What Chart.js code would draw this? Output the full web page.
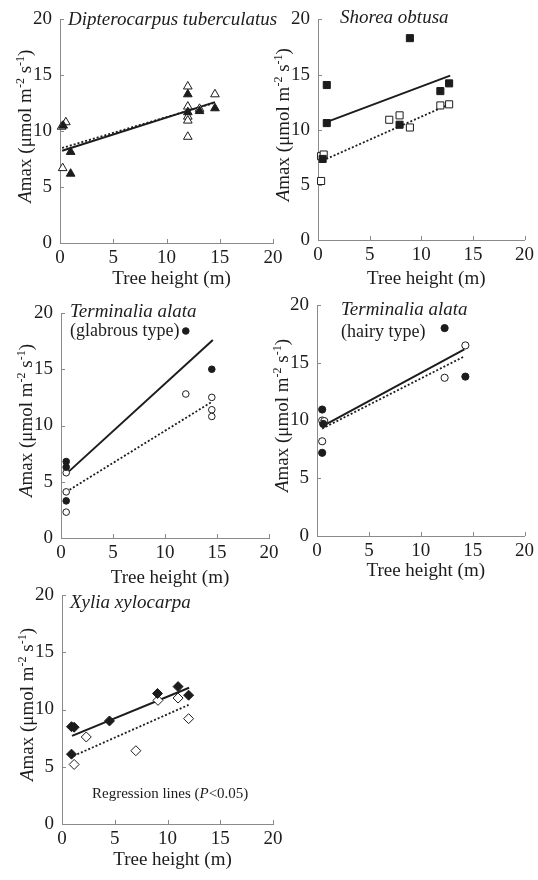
<!DOCTYPE html>
<html>
<head>
<meta charset="utf-8">
<script src="https://cdn.jsdelivr.net/npm/chart.js@4.4.0/dist/chart.umd.min.js"></script>
<style>
  body { margin: 0; background: #fff; }
  #wrap { position: relative; width: 538px; height: 880px; }
  #wrap canvas { position: absolute; left: 0; top: 0; }
</style>
</head>
<body>
<div id="wrap">
  <canvas id="p1" width="538" height="880"></canvas>
  <canvas id="p2" width="538" height="880"></canvas>
  <canvas id="p3" width="538" height="880"></canvas>
  <canvas id="p4" width="538" height="880"></canvas>
  <canvas id="p5" width="538" height="880"></canvas>
</div>
<script>
//axis ticks (tree height m, Amax)
const tickValues = [0, 5, 10, 15, 20];

//Dipterocarpus tuberculatus  [height, Amax]
const dipFilled = [[0.3, 10.5], [1.0, 8.15], [1.0, 6.2], [12.0, 13.3], [12.0, 11.7], [13.1, 11.8], [14.55, 12.05]];
const dipOpen = [[0.55, 10.8], [0.15, 10.4], [0.25, 6.7], [12.0, 14.0], [12.0, 12.2], [12.0, 11.3], [12.0, 10.95], [12.0, 9.5], [13.1, 12.0], [14.55, 13.3]];
const dipSolid = [[0.2, 8.25], [14.55, 12.6]];
const dipDotted = [[0.2, 8.5], [14.4, 12.5]];

//Shorea obtusa
const shoFilled = [[8.9, 18.3], [0.85, 14.05], [0.85, 10.6], [0.45, 7.35], [7.9, 10.45], [11.85, 13.5], [12.7, 14.2]];
const shoOpen = [[0.3, 7.6], [0.55, 7.75], [0.3, 5.35], [6.9, 10.9], [7.9, 11.3], [8.9, 10.2], [11.85, 12.2], [12.7, 12.3]];
const shoSolid = [[0.55, 10.6], [12.8, 14.9]];
const shoDotted = [[0.45, 7.2], [12.7, 12.3]];

//Terminalia alata (glabrous type)
const tgFilled = [[0.5, 6.8], [0.5, 6.3], [0.5, 3.3], [12.0, 18.4], [14.5, 15.0]];
const tgOpen = [[0.5, 5.8], [0.5, 4.1], [0.5, 2.3], [12.0, 12.8], [14.5, 12.5], [14.5, 11.4], [14.5, 10.8]];
const tgSolid = [[0.5, 5.7], [14.6, 17.6]];
const tgDotted = [[0.5, 4.1], [14.5, 12.1]];

//Terminalia alata (hairy type)
const thFilled = [[0.5, 10.95], [0.6, 9.7], [0.5, 7.2], [12.3, 18.0], [14.3, 13.8]];
const thOpen = [[0.5, 10.0], [0.7, 9.95], [0.5, 8.2], [12.3, 13.7], [14.3, 16.5]];
const thSolid = [[0.5, 9.5], [14.2, 16.15]];
const thDotted = [[0.5, 9.3], [14.2, 15.55]];

//Xylia xylocarpa
const xyFilled = [[0.9, 8.5], [1.15, 8.45], [0.9, 6.1], [4.5, 9.0], [9.05, 11.4], [11.0, 12.0], [12.0, 11.25]];
const xyOpen = [[1.15, 5.2], [2.3, 7.6], [7.0, 6.4], [9.1, 10.8], [11.0, 11.0], [12.0, 9.2]];
const xySolid = [[0.95, 7.7], [12.05, 11.9]];
const xyDotted = [[1.1, 5.95], [12.0, 10.4]];

const ink = "#1c1c1c";
const axisColor = "#8a8a8a";
const serif = '"Liberation Serif", "Times New Roman", serif';

const toPoints = (arr) => arr.map((p) => ({ x: p[0], y: p[1] }));

//draw a row of text pieces (mixed italic / superscript)
const drawParts = (ctx, parts, x, y) => {
  parts.forEach((p) => {
    ctx.font = p.font;
    ctx.fillText(p.t, x, y + (p.dy || 0));
    x += ctx.measureText(p.t).width;
  });
};
const partsWidth = (ctx, parts) => {
  let w = 0;
  parts.forEach((p) => { ctx.font = p.font; w += ctx.measureText(p.t).width; });
  return w;
};

const normal19 = "19px " + serif;
const italic19 = "italic 19px " + serif;
const sup12 = "12px " + serif;
const yTitle = [
  { t: "A", font: italic19 },
  { t: "max (\u03bcmol m", font: normal19 },
  { t: "-2", font: sup12, dy: -7 },
  { t: " s", font: normal19 },
  { t: "-1", font: sup12, dy: -7 },
  { t: ")", font: normal19 },
];

//plugin: inward ticks, axis titles and species labels
const decor = (cfg) => ({
  id: "decor",
  afterDraw(chart) {
    const ctx = chart.ctx;
    const xs = chart.scales.x, ys = chart.scales.y;
    const a = chart.chartArea;
    ctx.save();
    ctx.strokeStyle = axisColor;
    ctx.lineWidth = 1;
    ctx.beginPath();
    tickValues.forEach((v) => {
      const px = Math.round(xs.getPixelForValue(v)) + 0.5;
      ctx.moveTo(px, a.bottom);
      ctx.lineTo(px, a.bottom - 4);
      const py = Math.round(ys.getPixelForValue(v)) + 0.5;
      ctx.moveTo(a.left, py);
      ctx.lineTo(a.left + 4, py);
    });
    ctx.stroke();

    ctx.fillStyle = ink;
    //x title
    ctx.font = normal19;
    ctx.textAlign = "center";
    ctx.textBaseline = "alphabetic";
    ctx.fillText("Tree height (m)", (a.left + a.right) / 2 + 5, a.bottom + cfg.xTitleOffset);

    //y title, rotated
    ctx.textAlign = "left";
    const w = partsWidth(ctx, yTitle);
    ctx.save();
    ctx.translate(a.left - 35, (a.top + a.bottom) / 2 - 5);
    ctx.rotate(-Math.PI / 2);
    drawParts(ctx, yTitle, -w / 2, 6);
    ctx.restore();

    //species name and notes
    cfg.labels.forEach((l) => drawParts(ctx, l.parts, l.x, l.y));
    ctx.restore();
  },
});

const makePanel = (id, cfg) => {
  const a = cfg.area;
  const pointSet = (arr, fill) => ({
    data: toPoints(arr),
    pointStyle: cfg.marker,
    pointRadius: cfg.radius,
    pointBackgroundColor: fill,
    pointBorderColor: ink,
    pointBorderWidth: 1,
    showLine: false,
    clip: false,
  });
  const lineSet = (arr, dash) => ({
    data: toPoints(arr),
    showLine: true,
    pointRadius: 0,
    borderColor: ink,
    borderWidth: dash ? 1.8 : 2,
    borderDash: dash ? [2, 2] : [],
    clip: false,
  });
  const axis = (padding) => ({
    type: "linear",
    min: 0,
    max: 20,
    grid: { display: false, drawTicks: false },
    border: { display: true, color: axisColor, width: 1 },
    ticks: { stepSize: 5, padding: padding, color: ink, font: { family: serif, size: 19 } },
  });
  const xAxis = axis(4);
  xAxis.afterFit = (s) => { s.height = 880 - a.b; };
  const yAxis = axis(8);
  yAxis.afterFit = (s) => { s.width = a.l; };

  return new Chart(document.getElementById(id), {
    type: "scatter",
    plugins: [decor(cfg)],
    data: {
      datasets: [
        pointSet(cfg.filled, ink),
        pointSet(cfg.open, "#ffffff"),
        lineSet(cfg.solid, false),
        lineSet(cfg.dotted, true),
      ],
    },
    options: {
      responsive: false,
      animation: false,
      events: [],
      layout: { padding: { top: a.t, right: 538 - a.r, left: 0, bottom: 0 } },
      plugins: { legend: { display: false }, tooltip: { enabled: false } },
      scales: { x: xAxis, y: yAxis },
    },
  });
};

const itSpecies = "italic 19px " + serif;
const upSpecies = "18px " + serif;

makePanel("p1", {
  area: { l: 60, r: 273, t: 17, b: 243 },
  marker: "triangle", radius: 5,
  filled: dipFilled, open: dipOpen, solid: dipSolid, dotted: dipDotted,
  xTitleOffset: 41,
  labels: [{ x: 68, y: 25, parts: [{ t: "Dipterocarpus tuberculatus", font: itSpecies }] }],
});

makePanel("p2", {
  area: { l: 318, r: 529, t: 13, b: 240 },
  marker: "rect", radius: 5,
  filled: shoFilled, open: shoOpen, solid: shoSolid, dotted: shoDotted,
  xTitleOffset: 44,
  labels: [{ x: 340, y: 23, parts: [{ t: "Shorea obtusa", font: itSpecies }] }],
});

makePanel("p3", {
  area: { l: 61, r: 269, t: 313, b: 538 },
  marker: "circle", radius: 3.3,
  filled: tgFilled, open: tgOpen, solid: tgSolid, dotted: tgDotted,
  xTitleOffset: 45,
  labels: [
    { x: 70, y: 317, parts: [{ t: "Terminalia alata", font: itSpecies }] },
    { x: 70, y: 336, parts: [{ t: "(glabrous type)", font: upSpecies }] },
  ],
});

makePanel("p4", {
  area: { l: 317, r: 529, t: 305, b: 536 },
  marker: "circle", radius: 3.6,
  filled: thFilled, open: thOpen, solid: thSolid, dotted: thDotted,
  xTitleOffset: 40,
  labels: [
    { x: 341, y: 315, parts: [{ t: "Terminalia alata", font: itSpecies }] },
    { x: 341, y: 337, parts: [{ t: "(hairy type)", font: upSpecies }] },
  ],
});

makePanel("p5", {
  area: { l: 62, r: 273, t: 595, b: 824 },
  marker: "rectRot", radius: 5,
  filled: xyFilled, open: xyOpen, solid: xySolid, dotted: xyDotted,
  xTitleOffset: 41,
  labels: [
    { x: 70, y: 608, parts: [{ t: "Xylia xylocarpa", font: itSpecies }] },
    {
      x: 92, y: 798,
      parts: [
        { t: "Regression lines (", font: "15px " + serif },
        { t: "P", font: "italic 15px " + serif },
        { t: "<0.05)", font: "15px " + serif },
      ],
    },
  ],
});
</script>
</body>
</html>
